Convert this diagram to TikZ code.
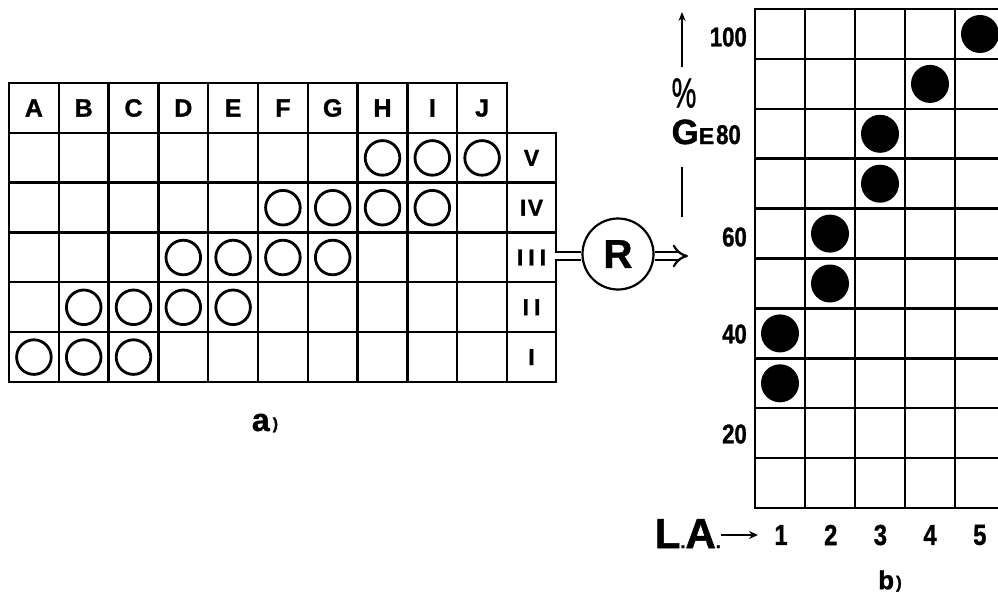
\documentclass[tikz,border=0pt]{standalone}
\usepackage{fontspec}
\usepackage{graphicx}
\setmainfont{Liberation Sans}[FakeBold=1.2]
\usetikzlibrary{arrows.meta}
\newcommand\fsz[1]{\fontsize{#1}{#1}\selectfont}
\newcommand\cnd[1]{\scalebox{0.82}[1]{#1}}
\begin{document}
\begin{tikzpicture}[x=1pt,y=-1pt,
  gridline/.style={line width=2.5pt, line cap=rect},
  hollow/.style={line width=2.8pt},
  dot/.style={fill=black},
  hdr/.style={font=\fsz{25}\bfseries, inner sep=0pt},
  rom/.style={font=\fsz{23}\bfseries, inner sep=0pt},
  axnum/.style={font=\fsz{27}\bfseries, inner sep=0pt},
  botnum/.style={font=\fsz{29}\bfseries, inner sep=0pt},
  captxt/.style={font=\bfseries, inner sep=0pt},
]
\useasboundingbox (0,0) rectangle (998,594);
\clip (0,0) rectangle (998,594);
\fill[white] (0,0) rectangle (998,594);

% ---------- left grid ----------
\foreach \i in {0,...,10} \draw[gridline] ({9+49.8*\i},83) -- ({9+49.8*\i},381.8);
\draw[gridline] (556,133) -- (556,381.8);
\draw[gridline] (9,83) -- (507,83);
\foreach \j in {1,...,6} \draw[gridline] (9,{83+49.8*\j}) -- (556,{83+49.8*\j});

\foreach \L [count=\i from 0] in {A,B,C,D,E,F,G,H,I,J}
  \node[hdr] (h\L) at ({33.9+49.8*\i},108) {\L};

\node[rom] (rV)   at (531.5,157.9) {V};
\node[rom] (rIV)  at (531.5,207.7) {I\kern1.5pt V};
\node[rom] (rIII) at (531.5,257.5) {I\kern5pt I\kern5pt I};
\node[rom] (rII)  at (531.5,307.3) {I\kern5pt I};
\node[rom] (rI)   at (531.5,357.1) {I};

\foreach \c/\r in {7/0,8/0,9/0, 5/1,6/1,7/1,8/1, 3/2,4/2,5/2,6/2, 1/3,2/3,3/3,4/3, 0/4,1/4,2/4}
  \draw[hollow] ({33.9+49.8*\c},{157.9+49.8*\r}) circle (17.3pt);

\node[captxt] (capa) at (265,423) {{\fsz{32}a}\kern3pt\raisebox{2pt}{\fsz{16})}};

% ---------- R ----------
\node[circle, draw, line width=2.2pt, minimum size=71pt, inner sep=0pt,
      font=\fsz{40}\bfseries] (R) at (618,254) {R};
\coordinate (gridR) at (555,256);
\coordinate (arrEnd) at (688,256);
\draw[double, double distance=5.5pt, line width=2.2pt] (gridR) -- (R.west |- gridR);
\draw[double, double distance=5.5pt, line width=2.2pt, -{Implies}] (R.east |- arrEnd) -- (arrEnd);

% ---------- right grid ----------
\foreach \i in {0,...,5} \draw[gridline] ({755+50*\i},9) -- ({755+50*\i},508);
\foreach \j in {0,...,10} \draw[gridline] (755,{9+49.9*\j}) -- (1010,{9+49.9*\j});

\foreach \c/\r in {4/0,3/1,2/2,2/3,1/4,1/5,0/6,0/7}
  \fill[dot] ({780+50*\c},{34+49.9*\r}) circle (19pt);

\node[axnum, anchor=east] (y100) at (747,37) {\cnd{100}};
\node[axnum, anchor=base east] (y80) at (741,144)
   {{\fsz{35}G}{\fsz{23}E}\kern2pt\cnd{80}};
\node[axnum, anchor=east] (y60) at (747,237) {\cnd{60}};
\node[axnum, anchor=east] (y40) at (747,334) {\cnd{40}};
\node[axnum, anchor=east] (y20) at (747,434) {\cnd{20}};
\node[font=\fsz{42}, inner sep=0pt] (pct) at (684,93) {\scalebox{0.66}[1]{\%}};

\coordinate (upBot) at (682,67);
\coordinate (upTop) at (682,12);
\draw[line width=2.2pt, -{Stealth[length=9pt,width=7pt]}] (upBot) -- (upTop);
\coordinate (barTop) at (682,167);
\coordinate (barBot) at (682,217);
\draw[line width=2.5pt] (barTop) -- (barBot);

\foreach \n [count=\i from 0] in {1,2,3,4,5}
  \node[botnum] (x\n) at ({781+49.7*\i},535) {\cnd{\n}};

\node[font=\fsz{42}\bfseries, inner sep=0pt, anchor=base east] (LA) at (721,548)
   {L{\fsz{18}.}A{\fsz{18}.}};
\coordinate (laEnd) at (758,535);
\draw[line width=2.4pt, -{Stealth[length=9pt,width=8pt]}] (LA.east |- laEnd) -- (laEnd);

\node[captxt] (capb) at (890,581) {{\fsz{26}b}\kern2pt\raisebox{1pt}{\fsz{17})}};
\end{tikzpicture}
\end{document}
